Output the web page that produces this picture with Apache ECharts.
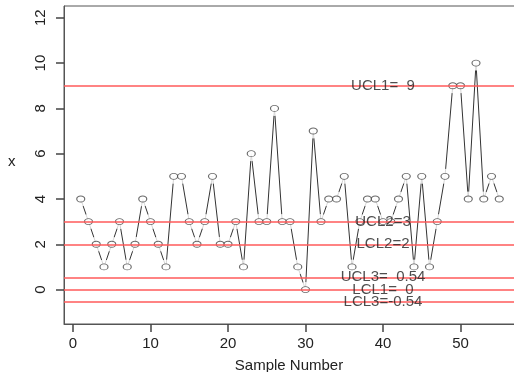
<!DOCTYPE html>
<html>
<head>
<meta charset="utf-8">
<script src="https://cdn.jsdelivr.net/npm/echarts@6/dist/echarts.min.js"></script>
<style>
html,body{margin:0;padding:0;background:#fff;}
#chart{width:514px;height:372px;}
</style>
</head>
<body>
<div id="chart"></div>
<script>
// sample values
var samples = [];
for (var i = 1; i <= 55; i++) samples.push(i);
var xValues = [4,3,2,1,2,3,1,2,4,3,2,1,5,5,3,2,3,5,2,2,
               3,1,6,3,3,8,3,3,1,0,7,3,4,4,5,1,3,4,4,3,
               3,4,5,1,5,1,3,5,9,9,4,10,4,5,4];
var limitNames = ['UCL1=  9','UCL2=3','LCL2=2','UCL3=  0.54','LCL1=  0','LCL3=-0.54'];
var limitValues = [9,3,2,0.54,0,-0.54];
var xTicks = [0,10,20,30,40,50];
var yTicks = [0,2,4,6,8,10,12];
var labelAt = 40;

var pts = samples.map(function(s, i){ return [s, xValues[i]]; });
var font = 'Liberation Sans, Arial, sans-serif';

var chart = echarts.init(document.getElementById('chart'));
var option = {
	animation:false,
	title:[{
		text:'Sample Number', left:289, top:358, textAlign:'center', padding:0,
		textStyle:{color:'#222', fontSize:15, fontWeight:'normal', fontFamily:font}
	},{
		text:'x', left:8, top:154, padding:0,
		textStyle:{color:'#222', fontSize:15, fontWeight:'normal', fontFamily:font}
	}],
	grid:{
		left:64, right:-2, top:6, bottom:48,
		outerBoundsMode:'none',
		show:true, borderColor:'#555', borderWidth:1
	},
	xAxis:{
		type:'value', min:-1.16, max:57.16,
		axisLine:{show:true, onZero:false, lineStyle:{color:'#555'}},
		splitLine:{show:false},
		axisTick:{show:true, length:8, lineStyle:{color:'#444', width:1.5}, customValues:xTicks},
		axisLabel:{color:'#222', fontSize:15, fontFamily:font, margin:12, customValues:xTicks}
	},
	yAxis:{
		type:'value', min:-1.52, max:12.52,
		axisLine:{show:true, onZero:false, lineStyle:{color:'#555'}},
		splitLine:{show:false},
		axisTick:{show:true, length:8, lineStyle:{color:'#444', width:1.5}, customValues:yTicks},
		axisLabel:{color:'#222', fontSize:15, fontFamily:font, margin:16, rotate:90, customValues:yTicks}
	},
	series:[{
		type:'line', data:pts, symbol:'none', z:2,
		lineStyle:{color:'#333', width:1}
	},{
		// white halo to leave a gap round each point
		type:'scatter', data:pts, symbol:'circle', symbolSize:15, z:3,
		itemStyle:{color:'#fff', borderWidth:0}
	},{
		type:'scatter', data:pts, symbol:'circle', symbolSize:[8,6], z:4,
		itemStyle:{color:'#fff', borderColor:'#444', borderWidth:1},
		markLine:{
			silent:true, symbol:'none', z:5,
			label:{show:false},
			lineStyle:{color:'#ff5a5a', width:1.5, type:'solid'},
			data:limitValues.map(function(v){ return {yAxis:v}; })
		}
	},{
		type:'scatter', symbol:'circle', symbolSize:2, z:6,
		itemStyle:{color:'rgba(0,0,0,0)'},
		data:limitValues.map(function(v, i){ return {value:[labelAt, v], name:limitNames[i]}; }),
		label:{
			show:true, position:'inside', formatter:'{b}',
			color:'#222', fontSize:15, fontFamily:font
		}
	}]
};
chart.setOption(option);
</script>
</body>
</html>
